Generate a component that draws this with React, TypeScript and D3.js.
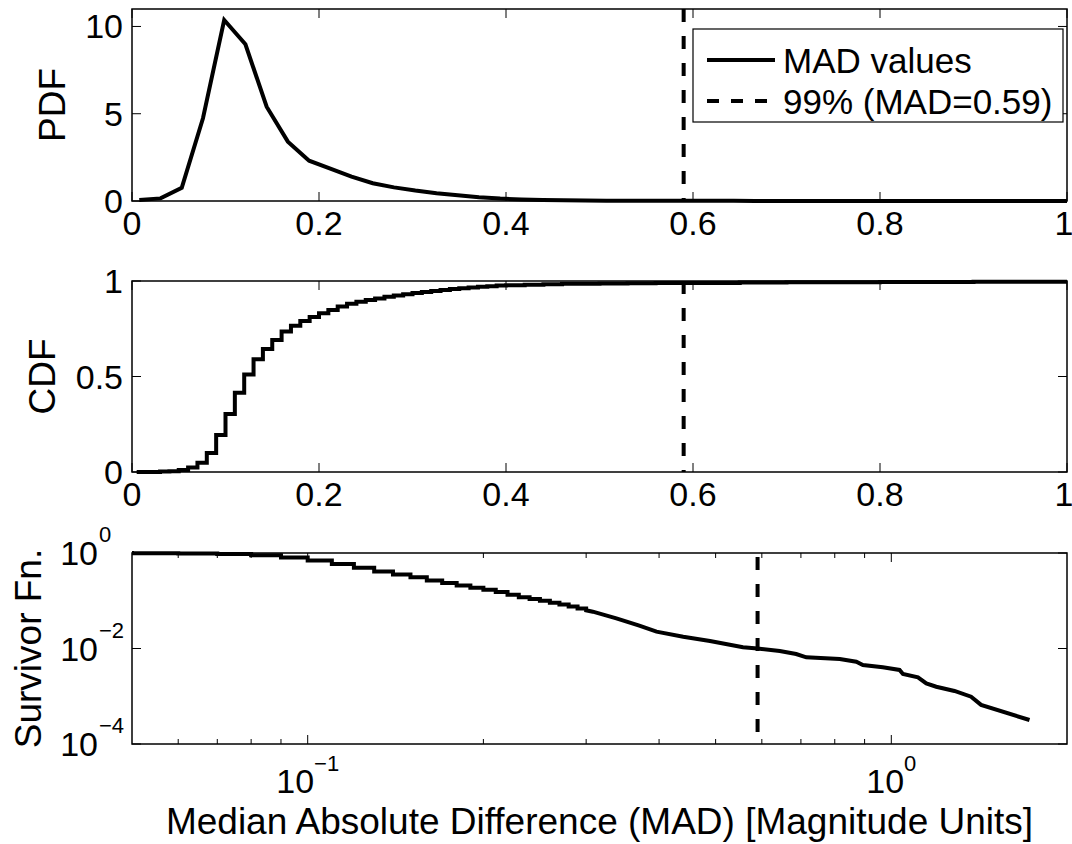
import React from 'react';
import * as d3 from 'd3';

// ---------- data ----------
const pdfX = [0.0078, 0.0305, 0.0532, 0.0759, 0.0986, 0.1213, 0.144, 0.1667, 0.1894, 0.2121, 0.2348, 0.2575, 0.2802, 0.303, 0.3257, 0.3484, 0.3711, 0.3938, 0.4165, 0.4392, 0.4619, 0.4846, 0.5073, 0.53, 0.5527, 0.5754, 0.5981, 0.6208, 0.6435, 0.6662, 0.7116, 0.8024, 0.8932, 1.0067];
const pdfY = [0.06, 0.15, 0.76, 4.74, 10.37, 8.98, 5.4, 3.4, 2.31, 1.85, 1.4, 1.02, 0.78, 0.6, 0.45, 0.33, 0.22, 0.14, 0.09, 0.06, 0.04, 0.03, 0.02, 0.017, 0.015, 0.013, 0.012, 0.01, 0.008, 0.007, 0.005, 0.003, 0.002, 0.001];

const cdfX = [0.005, 0.03, 0.04, 0.05, 0.06, 0.07, 0.08, 0.09, 0.1, 0.11, 0.12, 0.13, 0.14, 0.15, 0.16, 0.17, 0.18, 0.19, 0.2, 0.21, 0.22, 0.23, 0.24, 0.25, 0.26, 0.27, 0.28, 0.29, 0.3, 0.31, 0.32, 0.33, 0.34, 0.35, 0.36, 0.37, 0.38, 0.39, 0.4, 0.42, 0.44, 0.46, 0.48, 0.5, 0.53, 0.56, 0.59, 0.65, 0.7, 0.8, 0.9, 1.0];
const cdfY = [0.0, 0.002, 0.004, 0.01, 0.023, 0.049, 0.1, 0.194, 0.304, 0.415, 0.511, 0.59, 0.644, 0.691, 0.735, 0.766, 0.791, 0.812, 0.831, 0.848, 0.866, 0.881, 0.891, 0.9, 0.909, 0.917, 0.924, 0.931, 0.937, 0.942, 0.948, 0.953, 0.958, 0.962, 0.966, 0.97, 0.973, 0.976, 0.978, 0.981, 0.983, 0.985, 0.986, 0.987, 0.988, 0.989, 0.99, 0.992, 0.993, 0.995, 0.996, 0.997];

const survTailX = [0.3, 0.308, 0.338, 0.37, 0.396, 0.44, 0.489, 0.557, 0.59, 0.644, 0.687, 0.715, 0.816, 0.871, 0.894, 0.967, 1.033, 1.047, 1.111, 1.148, 1.194, 1.283, 1.37, 1.425, 1.725];
const survTailY = [0.063, 0.059, 0.0428, 0.03, 0.0225, 0.0177, 0.0144, 0.0106, 0.01, 0.00887, 0.00767, 0.00653, 0.00603, 0.0053, 0.00452, 0.00404, 0.00355, 0.00292, 0.00249, 0.00186, 0.00158, 0.00129, 0.00098, 0.00066, 0.000318];

const p99 = 0.59;
const legendLabels = ['MAD values', '99% (MAD=0.59)'];

const linTicks = [0, 0.2, 0.4, 0.6, 0.8, 1];
const linTickLabels = ['0', '0.2', '0.4', '0.6', '0.8', '1'];
const pdfTicks = [0, 5, 10];
const pdfTickLabels = ['0', '5', '10'];
const cdfTicks = [0, 0.5, 1];
const cdfTickLabels = ['0', '0.5', '1'];
const survYTicks = [1, 1e-2, 1e-4];
const survYExp = ['0', '\u22122', '\u22124'];
const survXMajor = [0.1, 1];
const survXExp = ['\u22121', '0'];
const survXMinor = [0.06, 0.07, 0.08, 0.09, 0.2, 0.3, 0.4, 0.5, 0.6, 0.7, 0.8, 0.9];

// ---------- layout ----------
const W = 1072, H = 844;
const L = 132, R = 1067;
const P1 = { top: 9, bottom: 201 };
const P2 = { top: 281, bottom: 472 };
const P3 = { top: 553, bottom: 744 };
const FONT = "'Liberation Sans', Arial, Helvetica, sans-serif";
const FS = 34;
const FS_LEG = 35;
const FS_LAB = 37;
const SUP = 22;
const LW = 4;
const DASH = '13,14';

const x1 = d3.scaleLinear().domain([0, 1]).range([L, R]);
const y1 = d3.scaleLinear().domain([0, 11]).range([P1.bottom, P1.top]);
const y2 = d3.scaleLinear().domain([0, 1]).range([P2.bottom, P2.top]);
const x3 = d3.scaleLog().domain([0.05, 2]).range([L, R]);
const y3 = d3.scaleLog().domain([1e-4, 1]).range([P3.bottom, P3.top]);

function Frame({ top, bottom }: { top: number; bottom: number }) {
  return <rect x={L} y={top} width={R - L} height={bottom - top} fill="none" stroke="#000" strokeWidth={1.5} />;
}

export default function App() {
  const pdfPts: [number, number][] = pdfX.map((x, i) => [x1(x), y1(pdfY[i])]);
  const pdfPath = d3.line()(pdfPts) || '';

  const cdfPts: [number, number][] = cdfX.map((x, i) => [x1(x), y2(cdfY[i])]);
  const cdfPath = d3.line().curve(d3.curveStepAfter)(cdfPts) || '';

  // survivor: stair part derived from the CDF (below 0.30), then tail
  const stairIdx = cdfX.map((x, i) => i).filter((i) => cdfX[i] < 0.3);
  const survPts: [number, number][] = [];
  stairIdx.forEach((i, k) => {
    const s = Math.max(1 - cdfY[i], 1e-6);
    const xa = Math.max(cdfX[i], 0.04);
    const xb = k + 1 < stairIdx.length ? cdfX[stairIdx[k + 1]] : survTailX[0];
    survPts.push([x3(xa), y3(s)]);
    survPts.push([x3(xb), y3(s)]);
  });
  survTailX.forEach((x, i) => survPts.push([x3(x), y3(survTailY[i])]));
  const survPath = d3.line()(survPts) || '';

  const tl = (x: number, y: number, dx: number, dy: number, key: string) => (
    <line key={key} x1={x} y1={y} x2={x + dx} y2={y + dy} stroke="#000" strokeWidth={1} />
  );

  const linXTicks = (p: { top: number; bottom: number }, pre: string) =>
    linTicks.map((t, i) => (
      <g key={pre + i}>
        {tl(x1(t), p.bottom, 0, -9, pre + 'b' + i)}
        {tl(x1(t), p.top, 0, 9, pre + 't' + i)}
        <text x={t === 1 ? x1(t) - 3 : x1(t)} y={p.bottom + 34} textAnchor="middle" fontSize={FS} fontFamily={FONT}>{linTickLabels[i]}</text>
      </g>
    ));

  const textProps = { fontFamily: FONT, fontSize: FS, fill: '#000' };
  const labProps = { fontFamily: FONT, fontSize: FS_LAB, fill: '#000' };
  const legProps = { fontFamily: FONT, fontSize: FS_LEG, fill: '#000' };

  return (
    <svg width={W} height={H} style={{ position: 'absolute', left: 0, top: 0, background: '#fff' }}>
      <rect x={0} y={0} width={W} height={H} fill="#fff" />
      <defs>
        <clipPath id="c1"><rect x={L} y={P1.top - 4} width={R - L} height={P1.bottom - P1.top + 8} /></clipPath>
        <clipPath id="c2"><rect x={L} y={P2.top - 4} width={R - L} height={P2.bottom - P2.top + 8} /></clipPath>
        <clipPath id="c3"><rect x={L} y={P3.top - 4} width={R - L} height={P3.bottom - P3.top + 8} /></clipPath>
      </defs>

      {/* ---------- Panel 1: PDF ---------- */}
      <Frame {...P1} />
      {linXTicks(P1, 'p1')}
      {pdfTicks.map((t, i) => (
        <g key={'p1y' + i}>
          {tl(L, y1(t), 9, 0, 'p1yl' + i)}
          {tl(R, y1(t), -9, 0, 'p1yr' + i)}
          <text x={123} y={y1(t)} textAnchor="end" dominantBaseline="central" {...textProps}>{pdfTickLabels[i]}</text>
        </g>
      ))}
      <g clipPath="url(#c1)">
        <path d={pdfPath} fill="none" stroke="#000" strokeWidth={LW} strokeLinejoin="miter" />
        <line x1={x1(p99)} x2={x1(p99)} y1={y1(11)} y2={y1(0)} stroke="#000" strokeWidth={LW} strokeDasharray={DASH} />
      </g>
      <text transform={`translate(52,${(P1.top + P1.bottom) / 2}) rotate(-90)`} textAnchor="middle" dominantBaseline="central" {...labProps}>PDF</text>

      {/* legend */}
      <rect x={693} y={29} width={370} height={93} fill="#fff" stroke="#000" strokeWidth={1.2} />
      <line x1={707} x2={775} y1={60} y2={60} stroke="#000" strokeWidth={LW} />
      <text x={783} y={60} dominantBaseline="central" {...legProps}>{legendLabels[0]}</text>
      <line x1={707} x2={775} y1={101} y2={101} stroke="#000" strokeWidth={LW} strokeDasharray="12,12" />
      <text x={783} y={101} dominantBaseline="central" {...legProps}>{legendLabels[1]}</text>

      {/* ---------- Panel 2: CDF ---------- */}
      <Frame {...P2} />
      {linXTicks(P2, 'p2')}
      {cdfTicks.map((t, i) => (
        <g key={'p2y' + i}>
          {tl(L, y2(t), 9, 0, 'p2yl' + i)}
          {tl(R, y2(t), -9, 0, 'p2yr' + i)}
          <text x={123} y={y2(t)} textAnchor="end" dominantBaseline="central" {...textProps}>{cdfTickLabels[i]}</text>
        </g>
      ))}
      <g clipPath="url(#c2)">
        <path d={cdfPath} fill="none" stroke="#000" strokeWidth={LW} strokeLinejoin="miter" />
        <line x1={x1(p99)} x2={x1(p99)} y1={y2(1)} y2={y2(0)} stroke="#000" strokeWidth={LW} strokeDasharray={DASH} />
      </g>
      <text transform={`translate(42,${(P2.top + P2.bottom) / 2}) rotate(-90)`} textAnchor="middle" dominantBaseline="central" {...labProps}>CDF</text>

      {/* ---------- Panel 3: Survivor ---------- */}
      <Frame {...P3} />
      {survXMinor.map((t, i) => (
        <g key={'p3m' + i}>
          {tl(x3(t), P3.bottom, 0, -5, 'p3mb' + i)}
          {tl(x3(t), P3.top, 0, 5, 'p3mt' + i)}
        </g>
      ))}
      {survXMajor.map((t, i) => (
        <g key={'p3M' + i}>
          {tl(x3(t), P3.bottom, 0, -9, 'p3Mb' + i)}
          {tl(x3(t), P3.top, 0, 9, 'p3Mt' + i)}
          <text x={x3(t)} y={P3.bottom + 49} textAnchor="middle" {...textProps}>
            <tspan>10</tspan>
            <tspan fontSize={SUP} dy={-22}>{survXExp[i]}</tspan>
          </text>
        </g>
      ))}
      {survYTicks.map((t, i) => (
        <g key={'p3y' + i}>
          {tl(L, y3(t), 9, 0, 'p3yl' + i)}
          {tl(R, y3(t), -9, 0, 'p3yr' + i)}
          <text x={98} y={y3(t) + 12} textAnchor="end" {...textProps}>10</text>
          <text x={99} y={y3(t) - 11} fontSize={SUP} fontFamily={FONT}>{survYExp[i]}</text>
        </g>
      ))}
      <g clipPath="url(#c3)">
        <path d={survPath} fill="none" stroke="#000" strokeWidth={LW} strokeLinejoin="miter" />
        <line x1={x3(p99)} x2={x3(p99)} y1={y3(1)} y2={y3(1e-4)} stroke="#000" strokeWidth={LW} strokeDasharray={DASH} strokeDashoffset={-4} />
      </g>
      <text transform={`translate(28,${(P3.top + P3.bottom) / 2}) rotate(-90)`} textAnchor="middle" dominantBaseline="central" {...labProps}>Survivor Fn.</text>

      <text x={(L + R) / 2} y={834} textAnchor="middle" {...labProps}>Median Absolute Difference (MAD) [Magnitude Units]</text>
    </svg>
  );
}
